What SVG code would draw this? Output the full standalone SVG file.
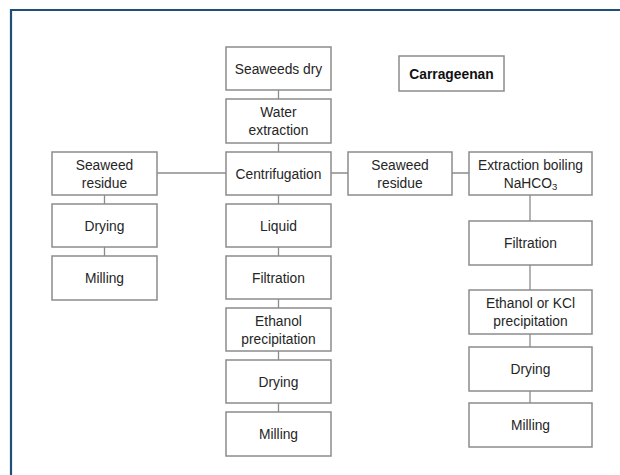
<svg xmlns="http://www.w3.org/2000/svg" width="620" height="475" viewBox="0 0 620 475">
<style>
.box{fill:#fff;stroke:#8c8c8c;stroke-width:1.5}
.t{font-family:"Liberation Sans",Arial,sans-serif;font-size:13.8px;fill:#262626;text-anchor:middle}
.b{font-weight:bold;fill:#111}
.c{stroke:#8c8c8c;stroke-width:1.3;fill:none}
</style>
<rect width="620" height="475" fill="#fff"/>
<path d="M11,475 V10 H620" fill="none" stroke="#1f4e79" stroke-width="2.2"/>
<g id="connectors">
<path class="c" d="M278.5,90 V99 M278.5,143 V152 M278.5,195 V204 M278.5,247 V256 M278.5,299 V308 M278.5,351 V360 M278.5,403 V412"/>
<path class="c" d="M157,173 H226 M104.5,195 V204 M104.5,247 V256"/>
<path class="c" d="M331,173 H348 M452,173 H469"/>
<path class="c" d="M530,195 V221 M530,265 V290 M530,334 V347 M530,391 V403"/>
</g>
<g id="seaweeds-dry"><rect class="box" x="226" y="47" width="105" height="43"/><text class="t" x="278.5" y="73.5">Seaweeds dry</text></g>
<g id="water-extraction"><rect class="box" x="226" y="99" width="105" height="44"/><text class="t" x="278.5" y="116.5">Water</text><text class="t" x="278.5" y="134.5">extraction</text></g>
<g id="centrifugation"><rect class="box" x="226" y="152" width="105" height="43"/><text class="t" x="278.5" y="178.5">Centrifugation</text></g>
<g id="liquid"><rect class="box" x="226" y="204" width="105" height="43"/><text class="t" x="278.5" y="230.5">Liquid</text></g>
<g id="filtration-c"><rect class="box" x="226" y="256" width="105" height="43"/><text class="t" x="278.5" y="282.5">Filtration</text></g>
<g id="ethanol-precipitation"><rect class="box" x="226" y="308" width="105" height="43"/><text class="t" x="278.5" y="325.5">Ethanol</text><text class="t" x="278.5" y="343.5">precipitation</text></g>
<g id="drying-c"><rect class="box" x="226" y="360" width="105" height="43"/><text class="t" x="278.5" y="386.5">Drying</text></g>
<g id="milling-c"><rect class="box" x="226" y="412" width="105" height="44"/><text class="t" x="278.5" y="438.5">Milling</text></g>
<g id="carrageenan"><rect class="box" x="399" y="56" width="105" height="35"/><text class="t b" x="451.5" y="78.5">Carrageenan</text></g>
<g id="seaweed-residue-l"><rect class="box" x="52" y="152" width="105" height="43"/><text class="t" x="104.5" y="169.5">Seaweed</text><text class="t" x="104.5" y="187.5">residue</text></g>
<g id="drying-l"><rect class="box" x="52" y="204" width="105" height="43"/><text class="t" x="104.5" y="230.5">Drying</text></g>
<g id="milling-l"><rect class="box" x="52" y="256" width="105" height="44"/><text class="t" x="104.5" y="282.5">Milling</text></g>
<g id="seaweed-residue-r"><rect class="box" x="348" y="152" width="104" height="43"/><text class="t" x="400" y="169.5">Seaweed</text><text class="t" x="400" y="187.5">residue</text></g>
<g id="extraction-boiling"><rect class="box" x="469" y="152" width="123" height="43"/><text class="t" x="530.5" y="169.5">Extraction boiling</text><text class="t" x="530.5" y="187.5">NaHCO<tspan font-size="9.5" dy="2">3</tspan></text></g>
<g id="filtration-r"><rect class="box" x="469" y="221" width="123" height="44"/><text class="t" x="530.5" y="247.5">Filtration</text></g>
<g id="ethanol-kcl"><rect class="box" x="469" y="290" width="123" height="44"/><text class="t" x="530.5" y="307.5">Ethanol or KCl</text><text class="t" x="530.5" y="325.5">precipitation</text></g>
<g id="drying-r"><rect class="box" x="469" y="347" width="123" height="44"/><text class="t" x="530.5" y="373.5">Drying</text></g>
<g id="milling-r"><rect class="box" x="469" y="403" width="123" height="44"/><text class="t" x="530.5" y="430">Milling</text></g>
</svg>
